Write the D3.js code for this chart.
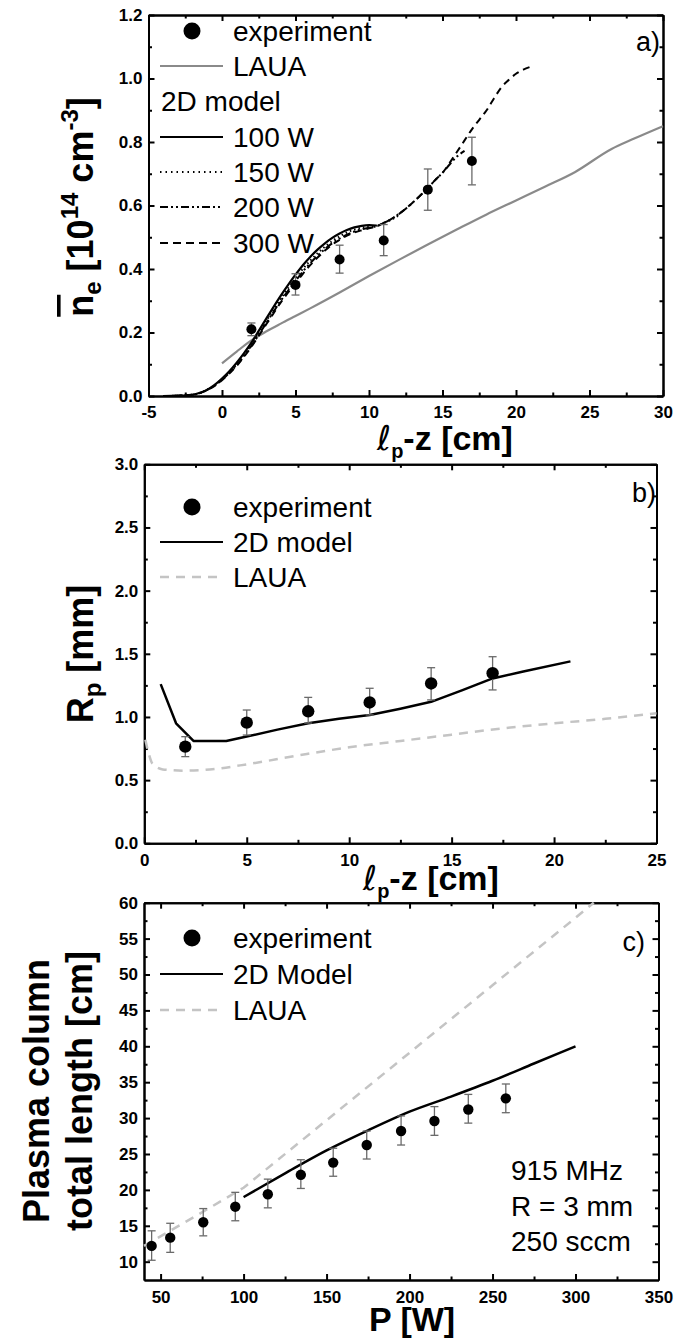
<!DOCTYPE html>
<html><head><meta charset="utf-8">
<script src="https://cdn.jsdelivr.net/npm/d3@7"></script>
<style>body{margin:0;background:#fff} svg{display:block}</style>
</head><body><svg id="c" width="691" height="1340"></svg>
<script>
// ---------------- DATA ----------------
// Panel a) : mean electron density vs lp - z
const aXTicks = [-5,0,5,10,15,20,25,30];
const aXMinor = [-2.5,2.5,7.5,12.5,17.5,22.5,27.5];
const aYTicks = [0,0.2,0.4,0.6,0.8,1.0,1.2];
const aYMinor = [0.1,0.3,0.5,0.7,0.9,1.1];
const aExpX  = [2,5,8,11,14,17];
const aExpY  = [0.21,0.35,0.43,0.49,0.65,0.74];
const aExpLo = [0.19,0.318,0.387,0.442,0.585,0.665];
const aExpHi = [0.23,0.385,0.475,0.54,0.715,0.815];
const aLauaX = [0,1,2,3,4,5,6,8,10,12,14,16,18,20,22,24,26.5,28,30];
const aLauaY = [0.103,0.14,0.175,0.203,0.228,0.252,0.276,0.326,0.378,0.428,0.477,0.525,0.572,0.616,0.66,0.705,0.778,0.81,0.85];
const modelZ = [-4,-3,-2,-1.5,-1,-0.5,0,0.5,1,1.5,2,2.5,3,3.5,4,4.5,5,5.5,6,6.5,7,7.5,8,8.5,9,9.5,10,10.5,11,11.5,12,12.5,13,13.5,14,14.5,15,15.5,16,16.5,17,17.5,18,18.5,19,19.5,20,20.5,21];
const n100W = [0,0.001,0.004,0.01,0.02,0.035,0.055,0.078,0.105,0.135,0.168,0.205,0.243,0.28,0.316,0.35,0.382,0.412,0.438,0.461,0.481,0.498,0.512,0.523,0.531,0.536,0.538,0.537];
const n150W = [0,0.001,0.004,0.01,0.02,0.034,0.053,0.075,0.1,0.13,0.162,0.198,0.235,0.272,0.307,0.34,0.371,0.4,0.426,0.45,0.47,0.488,0.503,0.515,0.524,0.53,0.533,0.536,0.545,0.555,0.568];
const n200W = [0,0.001,0.004,0.009,0.019,0.033,0.051,0.073,0.097,0.126,0.158,0.193,0.229,0.265,0.3,0.332,0.362,0.392,0.418,0.442,0.463,0.481,0.496,0.508,0.518,0.525,0.53,0.535,0.545,0.557,0.572,0.59,0.61,0.632,0.655,0.68,0.703,0.73,0.755,0.772];
const n300W = [0,0.001,0.004,0.009,0.019,0.032,0.05,0.071,0.095,0.124,0.155,0.19,0.225,0.26,0.295,0.326,0.355,0.385,0.412,0.436,0.458,0.477,0.492,0.505,0.515,0.522,0.528,0.534,0.545,0.557,0.572,0.59,0.61,0.632,0.655,0.68,0.703,0.735,0.77,0.805,0.84,0.87,0.9,0.937,0.972,0.995,1.015,1.028,1.037];

// Panel b) : plasma radius vs lp - z
const bXTicks = [0,5,10,15,20,25];
const bXMinor = [2.5,7.5,12.5,17.5,22.5];
const bYTicks = [0,0.5,1.0,1.5,2.0,2.5,3.0];
const bYMinor = [0.25,0.75,1.25,1.75,2.25,2.75];
const bExpX  = [2,5,8,11,14,17];
const bExpY  = [0.765,0.955,1.045,1.115,1.265,1.347];
const bExpLo = [0.686,0.857,0.952,1.016,1.135,1.214];
const bExpHi = [0.844,1.055,1.155,1.227,1.39,1.477];
const bModelX = [0.8,1.55,2.4,4.0,5,6.5,8,9.5,11,12.5,14,15.5,17,18.5,20.8];
const bModelY = [1.26,0.95,0.81,0.81,0.845,0.9,0.95,0.985,1.015,1.065,1.12,1.21,1.305,1.36,1.44];
const bLauaX = [0.05,0.2,0.4,0.9,2,3.5,5,7.5,10,12.5,15,17.5,20,22.5,25];
const bLauaY = [0.82,0.72,0.63,0.585,0.575,0.59,0.625,0.695,0.76,0.81,0.86,0.91,0.95,0.985,1.03];

// Panel c) : total plasma column length vs power
const cXTicks = [50,100,150,200,250,300,350];
const cXMinor = [75,125,175,225,275,325];
const cYTicks = [10,15,20,25,30,35,40,45,50,55,60];
const cYMinor = [12.5,17.5,22.5,27.5,32.5,37.5,42.5,47.5,52.5,57.5];
const cExpP  = [44.6,55.8,75.7,95,114.6,134.5,154,174.2,194.9,215,235.4,258];
const cExpL  = [12.2,13.35,15.5,17.66,19.4,22.1,23.8,26.25,28.2,29.6,31.2,32.75];
const cExpLo = [10.2,11.3,13.6,15.7,17.5,20.2,21.9,24.3,26.25,27.6,29.3,30.75];
const cExpHi = [14.3,15.35,17.4,19.66,21.5,24.2,25.8,28.2,30.3,31.6,33.3,34.75];
const cModelP = [100,125,150,175,200,225,250,275,300];
const cModelL = [19,22.3,25.5,28.3,30.9,33,35.2,37.6,40];
const cLauaP = [40,70,100,150,200,250,300,311];
const cLauaL = [12.2,16.2,20.3,29.7,39.1,48.5,57.9,60];

// ---------------- DRAWING ----------------
const svg = d3.select('#c');
const FONT = '"Liberation Sans", Arial, Helvetica, sans-serif';
const LAUA_SOLID = '#8a8a8a', LAUA_DASH = '#c4c4c4', ERR = '#6a6a6a';

function drawPanel(p) {
  const x = d3.scaleLinear().domain(p.xDomain).range([p.left, p.right]);
  const y = d3.scaleLinear().domain(p.yDomain).range([p.bottom, p.top]);
  const g = svg.append('g');
  function ax(gen, tr, vals, size, fmt, pad) {
    const a = g.append('g').attr('transform', tr)
      .call(gen.tickValues(vals).tickSizeInner(-size).tickSizeOuter(0).tickPadding(pad || 7).tickFormat(fmt || (() => '')));
    a.select('.domain').attr('stroke-width', 2).attr('stroke', '#000');
    a.selectAll('.tick line').attr('stroke-width', 2).attr('stroke', '#000');
    a.selectAll('text').attr('font-family', FONT).attr('font-weight', 'bold')
      .attr('font-size', 17).attr('fill', '#000');
    return a;
  }
  ax(d3.axisBottom(x), `translate(0,${p.bottom})`, p.xTicks, 6, p.xFmt, p.xPad);
  ax(d3.axisBottom(x), `translate(0,${p.bottom})`, p.xMinor, 3.5);
  ax(d3.axisTop(x), `translate(0,${p.top})`, p.xTicks, 6);
  ax(d3.axisTop(x), `translate(0,${p.top})`, p.xMinor, 3.5);
  ax(d3.axisLeft(y), `translate(${p.left},0)`, p.yTicks, 6, p.yFmt, 6);
  ax(d3.axisLeft(y), `translate(${p.left},0)`, p.yMinor, 3.5);
  ax(d3.axisRight(y), `translate(${p.right},0)`, p.yTicks, 6);
  ax(d3.axisRight(y), `translate(${p.right},0)`, p.yMinor, 3.5);
  return {x, y, g};
}

function curve(P, xs, ys, stroke, width, dash, linear) {
  const line = d3.line().x(d => P.x(d[0])).y(d => P.y(d[1]))
    .curve(linear ? d3.curveLinear : d3.curveMonotoneX);
  P.g.append('path').datum(xs.map((v, i) => [v, ys[i]]))
    .attr('d', line).attr('fill', 'none').attr('stroke', stroke)
    .attr('stroke-width', width).attr('stroke-dasharray', dash || null)
    .attr('stroke-linejoin', 'round');
}

function points(P, xs, ys, lo, hi, r) {
  const g = P.g.append('g');
  xs.forEach((v, i) => {
    const cx = P.x(v);
    g.append('line').attr('x1', cx).attr('x2', cx).attr('y1', P.y(lo[i])).attr('y2', P.y(hi[i]))
      .attr('stroke', ERR).attr('stroke-width', 1.3);
    [lo[i], hi[i]].forEach(e => g.append('line').attr('x1', cx - 4).attr('x2', cx + 4)
      .attr('y1', P.y(e)).attr('y2', P.y(e)).attr('stroke', ERR).attr('stroke-width', 1.3));
  });
  g.selectAll('circle').data(xs).join('circle')
    .attr('cx', d => P.x(d)).attr('cy', (d, i) => P.y(ys[i])).attr('r', r).attr('fill', '#000');
}

function txt(x, y, s, size, opts) {
  opts = opts || {};
  return svg.append('text').attr('x', x).attr('y', y).attr('font-family', FONT)
    .attr('font-size', size).attr('font-weight', opts.bold ? 'bold' : 'normal')
    .attr('text-anchor', opts.anchor || 'start').attr('dy', '0.35em').attr('fill', '#000').text(s);
}

function legendItem(y, kind, label, style) {
  if (kind === 'dot') svg.append('circle').attr('cx', 192).attr('cy', y).attr('r', 8.5).attr('fill', '#000');
  if (kind === 'line') svg.append('line').attr('x1', 160).attr('x2', 223).attr('y1', y).attr('y2', y)
    .attr('stroke', style.stroke).attr('stroke-width', style.width).attr('stroke-dasharray', style.dash || null);
  txt(kind === 'none' ? 161 : 233, y, label, 28);
}

const intFmt = d => String(d);
const f1 = d => d.toFixed(1);

// ----- Panel a
const A = drawPanel({left: 148.5, right: 663, top: 15, bottom: 396,
  xDomain: [-5, 30], yDomain: [0, 1.2], xTicks: aXTicks, xMinor: aXMinor, yTicks: aYTicks, yMinor: aYMinor,
  xFmt: intFmt, yFmt: f1, xPad: 10});
curve(A, aLauaX, aLauaY, LAUA_SOLID, 2.2);
curve(A, modelZ.slice(0, n300W.length), n300W, '#000', 2, '7,5');
curve(A, modelZ.slice(0, n200W.length), n200W, '#000', 2, '8,3,2,3,2,3');
curve(A, modelZ.slice(0, n150W.length), n150W, '#000', 2, '1.5,3');
curve(A, modelZ.slice(0, n100W.length), n100W, '#000', 2.2);
points(A, aExpX, aExpY, aExpLo, aExpHi, 5);
legendItem(31, 'dot', 'experiment');
legendItem(66, 'line', 'LAUA', {stroke: LAUA_SOLID, width: 2.2});
legendItem(101, 'none', '2D model');
legendItem(137, 'line', '100 W', {stroke: '#000', width: 2});
legendItem(172, 'line', '150 W', {stroke: '#000', width: 2, dash: '1.5,4'});
legendItem(207, 'line', '200 W', {stroke: '#000', width: 2, dash: '8,3,2,3,2,3'});
legendItem(243, 'line', '300 W', {stroke: '#000', width: 2, dash: '8,5'});
txt(660, 42, 'a)', 27, {anchor: 'end'});

// ----- Panel b
const B = drawPanel({left: 144.3, right: 656.5, top: 464.3, bottom: 843.3,
  xDomain: [0, 25], yDomain: [0, 3], xTicks: bXTicks, xMinor: bXMinor, yTicks: bYTicks, yMinor: bYMinor,
  xFmt: intFmt, yFmt: f1, xPad: 11});
curve(B, bLauaX, bLauaY, LAUA_DASH, 2.5, '9,7');
curve(B, bModelX, bModelY, '#000', 2.5, null, true);
points(B, bExpX, bExpY, bExpLo, bExpHi, 6.2);
legendItem(507, 'dot', 'experiment');
legendItem(542, 'line', '2D model', {stroke: '#000', width: 2.2});
legendItem(577, 'line', 'LAUA', {stroke: LAUA_DASH, width: 2.5, dash: '9,7'});
txt(656, 493, 'b)', 27, {anchor: 'end'});

// ----- Panel c
const C = drawPanel({left: 144, right: 658.5, top: 902.7, bottom: 1280,
  xDomain: [40, 350], yDomain: [7.45, 60], xTicks: cXTicks, xMinor: cXMinor, yTicks: cYTicks, yMinor: cYMinor,
  xFmt: intFmt, yFmt: intFmt, xPad: 11});
curve(C, cLauaP, cLauaL, LAUA_DASH, 2.5, '9,7', true);
curve(C, cModelP, cModelL, '#000', 2.5);
points(C, cExpP, cExpL, cExpLo, cExpHi, 5.2);
legendItem(938, 'dot', 'experiment');
legendItem(974, 'line', '2D Model', {stroke: '#000', width: 2.2});
legendItem(1010, 'line', 'LAUA', {stroke: LAUA_DASH, width: 2.5, dash: '9,7'});
txt(645, 942, 'c)', 27, {anchor: 'end'});
txt(511, 1170, '915 MHz', 28);
txt(511, 1206, 'R = 3 mm', 28);
txt(511, 1241, '250 sccm', 28);

// ----- Axis titles
function title(x, y, rot, size) {
  return svg.append('text').attr('transform', `translate(${x},${y}) rotate(${rot})`)
    .attr('text-anchor', 'middle').attr('font-family', FONT).attr('font-weight', 'bold')
    .attr('font-size', size).attr('fill', '#000');
}
// a) y title
let t = title(93, 207, -90, 36);
t.append('tspan').attr('style', 'text-decoration: overline').text('n');
t.append('tspan').attr('font-size', 24).attr('dy', 8).text('e');
t.append('tspan').attr('dy', -8).text(' [10');
t.append('tspan').attr('font-size', 24).attr('dy', -15).text('14');
t.append('tspan').attr('dy', 15).text(' cm');
t.append('tspan').attr('font-size', 24).attr('dy', -15).text('-3');
t.append('tspan').attr('dy', 15).text(']');
// lp - z titles
function lpTitle(x, y) {
  const tt = title(x, y, 0, 34);
  tt.append('tspan').attr('font-style', 'italic').attr('font-family', '"DejaVu Sans", sans-serif').attr('font-weight', 'normal').text('ℓ');
  tt.append('tspan').attr('font-size', 20).attr('dy', 8).text('p');
  tt.append('tspan').attr('dy', -8).text('-z [cm]');
}
lpTitle(445, 450);
lpTitle(431, 890);
// b) y title
t = title(93, 654, -90, 36);
t.append('tspan').text('R');
t.append('tspan').attr('font-size', 24).attr('dy', 8).text('p');
t.append('tspan').attr('dy', -8).text(' [mm]');
// c) y titles
title(49, 1091, -90, 36).text('Plasma column');
title(92, 1091, -90, 36).text('total length [cm]');
// c) x title
title(412, 1331, 0, 34).text('P [W]');
</script></body></html>
